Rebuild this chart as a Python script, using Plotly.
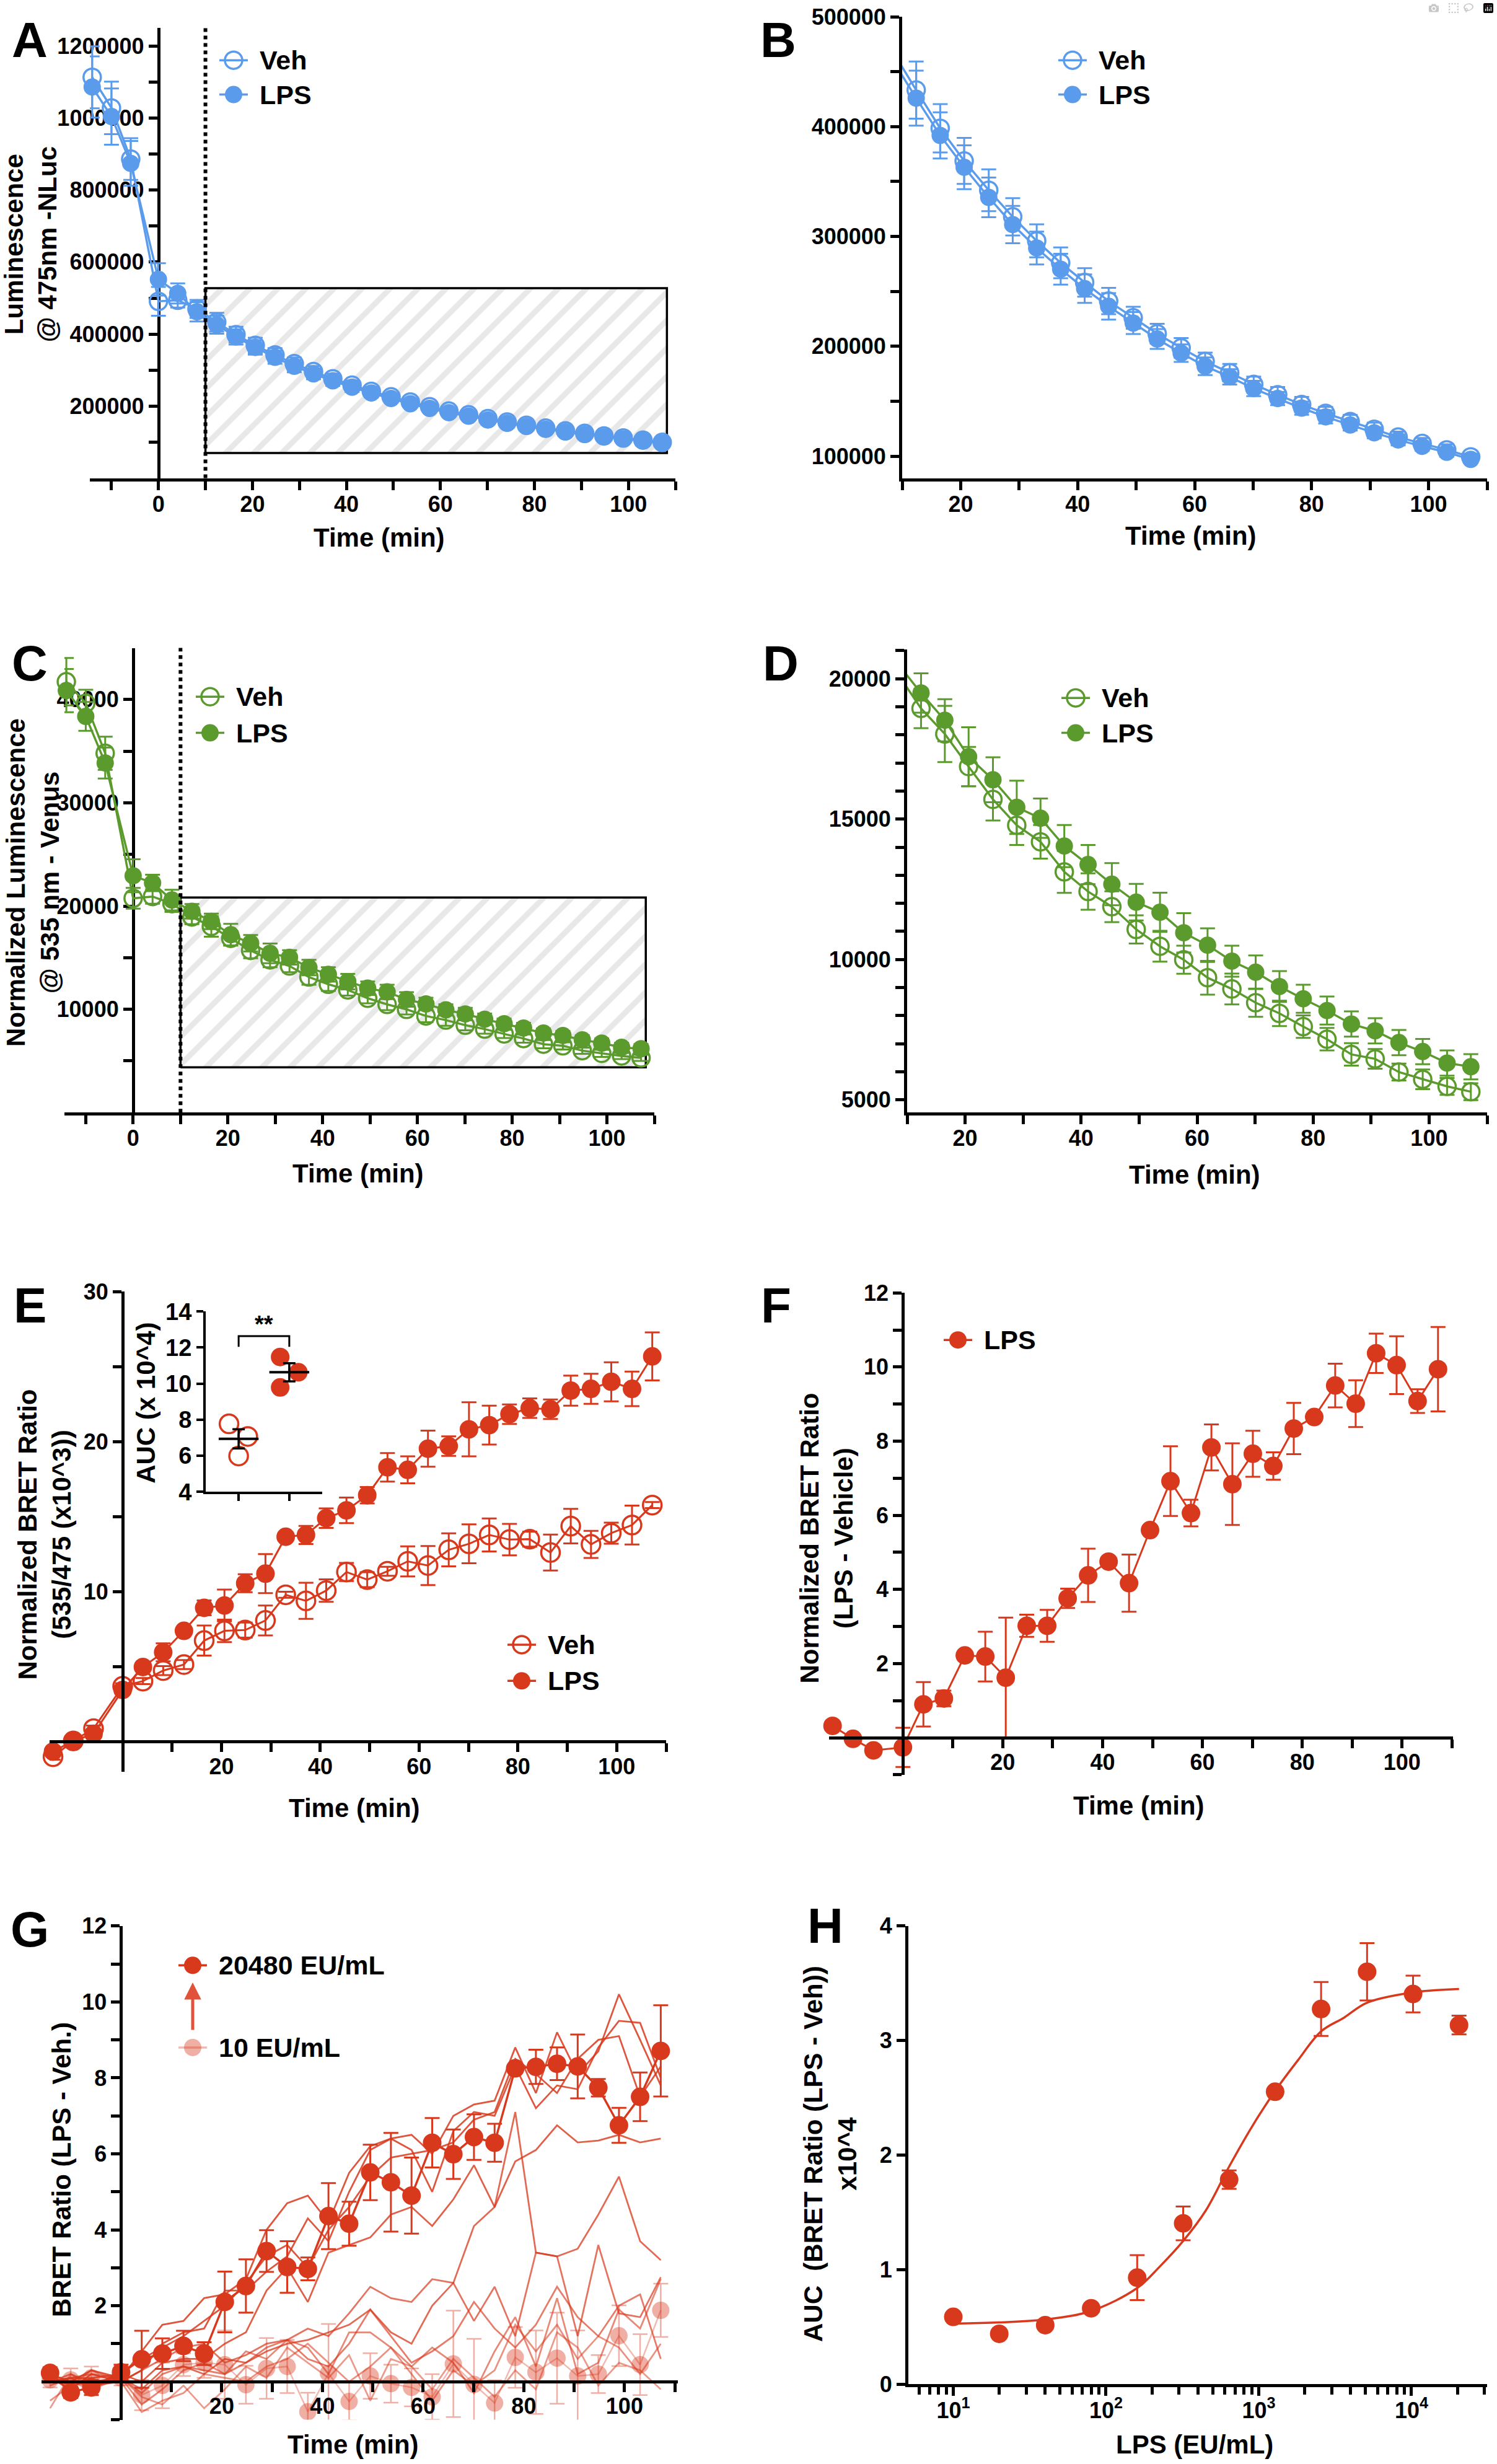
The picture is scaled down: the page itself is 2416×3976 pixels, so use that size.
import plotly.graph_objects as go

W, H = 2416, 3976
FONT = "Liberation Sans, Arial, sans-serif"
BLUE = "#5b9bec"
GREEN = "#5b9a2c"
RED = "#d8381c"
RED_FADE = "rgba(216,56,28,0.40)"

# %%
# data
TIME = [-14.1, -10.0, -5.9, 0.0, 4.1, 8.2, 12.4, 16.5, 20.6, 24.8, 28.9, 33.0, 37.1, 41.2, 45.3,
        49.5, 53.6, 57.7, 61.8, 66.0, 70.1, 74.2, 78.3, 82.4, 86.6, 90.7, 94.8, 98.9, 103.1, 107.2]

# A/B  luminescence @475 nm (NLuc)
NLUC_VEH = [1113000, 1028000, 886000, 491000, 494000, 470000, 433300, 398500, 368800, 342100,
            317900, 296000, 276000, 258200, 241200, 226000, 211500, 198600, 186300, 176000,
            165400, 156000, 147000, 139000, 131600, 124500, 117400, 111600, 105800, 99400]
NLUC_VEH_ERR = [86000, 73000, 58000, 40000, 20000, 25000, 26000, 22000, 21000, 19000, 17000,
                15000, 14000, 13000, 12000, 10000, 9000, 9000, 8000, 8000, 7000, 7000, 7000,
                6000, 6000, 6000, 5000, 5000, 5000, 3000]
NLUC_LPS = [1086000, 1004000, 874000, 552000, 513000, 462000, 425900, 392000, 363000, 335600,
            310800, 289500, 270200, 252500, 236400, 221200, 206700, 193800, 181900, 172200,
            161600, 152500, 143800, 135800, 128400, 121300, 114800, 109000, 103600, 97100]
NLUC_LPS_ERR = [85000, 78000, 62000, 45000, 28000, 27000, 25000, 21000, 20000, 18000, 17000,
                15000, 14000, 13000, 12000, 10000, 9000, 8000, 8000, 7000, 7000, 6000, 6000,
                6000, 5000, 5000, 5000, 4000, 4000, 3000]

# C/D  normalized luminescence @535 nm (Venus)
VEN_VEH = [41730, 39650, 34800, 20750, 20920, 20230, 18940, 18030, 16870, 15700, 14780, 14190,
           13120, 12420, 11880, 11070, 10470, 9990, 9350, 8950, 8460, 8080, 7610, 7160, 6620,
           6460, 5990, 5730, 5480, 5290]
VEN_VEH_ERR = [2300, 1300, 1600, 1000, 700, 800, 700, 1000, 700, 750, 700, 600, 750, 650, 550,
               500, 550, 500, 600, 550, 500, 450, 400, 400, 400, 350, 300, 350, 300, 300]
VEN_LPS = [40870, 38370, 33860, 22930, 22240, 20580, 19490, 18520, 17220, 16400, 15420, 15030,
           14040, 13380, 12680, 12040, 11680, 10950, 10510, 9940, 9545, 9036, 8600, 8180, 7700,
           7457, 7040, 6720, 6310, 6180]
VEN_LPS_ERR = [2100, 1400, 1500, 1600, 800, 1000, 700, 750, 1050, 800, 950, 700, 750, 700, 750,
               650, 700, 700, 600, 550, 600, 550, 500, 500, 450, 450, 450, 450, 450, 450]

# E  normalized BRET ratio (x10^3)
BRET_VEH = [-1.0, 0.05, 0.87, 3.69, 4.04, 4.74, 5.14, 6.74, 7.39, 7.44, 8.08, 9.79, 9.39, 10.07,
            11.31, 10.8, 11.36, 12.02, 11.74, 12.79, 13.19, 13.78, 13.47, 13.5, 12.61, 14.37,
            13.15, 13.9, 14.44, 15.77]
BRET_VEH_ERR = [0.2, 0.2, 0.2, 0.2, 0.2, 0.3, 0.3, 1.0, 0.75, 0.5, 1.0, 0.2, 1.2, 0.75, 0.6, 0.5,
                0.3, 1.0, 1.3, 1.1, 1.3, 1.1, 1.05, 0.5, 1.2, 1.15, 0.9, 0.7, 1.3, 0.2]
BRET_LPS = [-0.66, 0.05, 0.52, 3.45, 4.98, 5.96, 7.39, 8.92, 9.08, 10.56, 11.2, 13.66, 13.78,
            14.9, 15.42, 16.43, 18.29, 18.12, 19.53, 19.7, 20.82, 21.1, 21.83, 22.23, 22.16,
            23.4, 23.52, 23.99, 23.52, 25.68]
BRET_LPS_ERR = [0.2, 0.2, 0.2, 0.2, 0.3, 0.6, 0.2, 0.5, 1.06, 0.6, 1.3, 0.2, 0.6, 0.65, 0.85,
                0.55, 0.95, 0.9, 1.2, 0.65, 1.8, 1.3, 0.65, 0.65, 0.65, 1.0, 1.0, 1.3, 1.15, 1.6]

# E inset  AUC (x 10^4)
INSET_GROUPS = [1, 2]
INSET_VEH = [7.77, 7.07, 5.99]
INSET_VEH_JITTER = [-0.19, 0.18, 0.0]
INSET_LPS = [11.48, 10.63, 9.79]
INSET_LPS_JITTER = [-0.18, 0.18, -0.18]
INSET_MEAN = [6.94, 10.63]
INSET_SEM = [0.53, 0.50]
BRACKET_Y = [12.04, 12.64]

# F  LPS - vehicle
DIFF_LPS = [0.32, -0.03, -0.34, -0.26, 0.9, 1.06, 2.22, 2.19, 1.62, 3.02, 3.02, 3.76, 4.38, 4.75,
            4.17, 5.6, 6.92, 6.06, 7.83, 6.84, 7.66, 7.33, 8.34, 8.65, 9.5, 9.01, 10.37, 10.05,
            9.08, 9.94]
DIFF_LPS_ERR = [0.05, 0.05, 0.05, 0.53, 0.6, 0.21, 0.05, 0.67, 1.62, 0.3, 0.43, 0.26, 0.72, 0.05,
                0.77, 0.05, 0.94, 0.36, 0.62, 1.1, 0.62, 0.37, 0.69, 0.05, 0.59, 0.63, 0.53,
                0.78, 0.32, 1.14]

# G  dose series (BRET ratio, LPS - Veh.)
G_20480 = [0.23, -0.28, -0.15, 0.25, 0.59, 0.74, 0.94, 0.74, 2.1, 2.52, 3.44, 3.02, 2.97, 4.36,
           4.16, 5.51, 5.25, 4.9, 6.29, 5.99, 6.44, 6.29, 8.25, 8.29, 8.37, 8.3, 7.74, 6.75, 7.5,
           8.71]
G_20480_ERR = [0.15, 0.15, 0.2, 0.2, 0.75, 0.4, 0.4, 0.3, 0.8, 0.7, 0.55, 0.68, 0.3, 0.87, 0.58,
               0.73, 1.3, 1.0, 0.65, 0.65, 0.6, 0.5, 0.1, 0.45, 0.43, 0.84, 0.23, 0.46, 0.64, 1.2]
G_10 = [0.05, 0.05, 0.1, 0.1, -0.35, -0.1, 0.45, 0.5, 0.45, -0.08, 0.35, 0.4, -0.79, 0.22, -0.52,
        0.15, -0.05, -0.15, -0.4, 0.47, -0.07, -0.56, 0.64, 0.25, 0.62, 0.15, 0.2, 1.21, 0.45,
        1.88]
G_10_ERR = [0.2, 0.3, 0.3, 0.2, 0.4, 0.6, 0.3, 0.4, 0.9, 0.5, 0.8, 0.7, 0.5, 1.3, 0.5, 0.6, 0.5,
            0.5, 0.6, 1.4, 1.2, 0.6, 0.8, 1.1, 1.2, 1.2, 0.5, 0.8, 0.8, 0.7]
G_20 = [-0.7, 0.2, 0.0, 0.1, -0.4, -0.6, -0.1, -0.7, -0.2, 0.4, 0.1, 0.9, 0.5, 0.1, 0.7, -0.5,
        0.6, 0.4, -0.2, 0.6, 0.1, -0.4, 0.3, -0.2, 1.3, 0.9, -0.1, 0.5, 0.3, -0.2]
G_40 = [-0.5, -0.1, 0.3, 0.0, -0.8, -0.5, -0.3, 0.2, 0.1, 0.0, 0.4, 0.6, 1.0, 0.5, 0.0, 0.4, 0.9,
        0.2, -0.5, 0.3, -0.1, 0.3, 1.5, 0.8, 1.5, 0.6, 1.2, 0.9, 0.2, 1.0]
G_80 = [0.2, 0.0, -0.2, 0.1, -0.6, -0.2, 0.3, 0.5, 0.2, 0.8, 0.6, 1.1, 0.9, 0.2, 1.3, 1.3, 0.9,
        0.4, 0.9, 0.5, -0.3, 0.8, 1.7, 0.4, 2.2, 0.2, 0.5, 1.9, 1.4, 2.7]
G_160 = [-0.1, 0.1, 0.2, 0.1, -0.3, 0.2, 0.4, 0.3, 0.2, 0.5, 0.9, 1.1, 0.6, 0.4, 1.0, 1.9, 1.2,
         0.5, 0.8, 1.2, 2.1, 1.4, 0.9, 1.5, 2.5, 1.7, 1.2, 2.0, 2.3, 0.6]
G_320 = [0.0, 0.2, -0.1, 0.0, 0.3, 0.6, 0.9, 1.0, 0.5, 0.7, 1.0, 1.1, 1.4, 1.2, 1.8, 2.5, 2.2,
         2.1, 2.7, 2.6, 1.6, 2.5, 1.2, 3.4, 3.3, 1.2, 3.6, 1.8, 1.7, 2.75]
G_640 = [0.1, -0.1, 0.0, 0.1, -0.2, 0.3, 0.4, 0.2, 0.6, 0.5, 0.8, 1.0, 1.1, 1.3, 1.5, 1.9, 1.3,
         1.0, 2.0, 2.6, 4.1, 4.6, 7.1, 3.4, 3.3, 3.5, 4.4, 5.4, 3.7, 3.2]
G_1280 = [0.0, 0.1, 0.1, 0.2, 0.0, 0.5, 0.6, 0.6, 1.0, 1.3, 2.4, 3.0, 2.1, 3.4, 3.6, 3.8, 4.4,
          4.6, 4.1, 4.8, 5.7, 4.6, 5.8, 6.1, 6.75, 6.3, 6.35, 6.5, 6.3, 6.4]
G_2560 = [0.1, -0.2, 0.2, 0.0, 0.3, 1.0, 1.3, 1.4, 2.4, 2.4, 2.9, 3.3, 4.3, 3.7, 5.0, 6.1, 6.4,
          6.1, 5.0, 6.6, 7.1, 7.0, 8.3, 7.2, 7.8, 7.7, 8.8, 9.5, 9.45, 8.0]
G_5120 = [0.2, 0.0, 0.3, 0.1, 0.8, 1.5, 1.6, 2.2, 2.3, 2.7, 4.0, 4.7, 4.9, 4.2, 5.5, 6.2, 6.4,
          6.5, 6.0, 7.0, 7.3, 7.4, 8.8, 7.6, 9.2, 8.1, 8.7, 10.2, 9.0, 7.8]
G_10240 = [0.0, 0.1, -0.2, 0.2, 0.6, 0.9, 1.2, 1.6, 2.0, 2.6, 3.3, 3.6, 3.0, 4.0, 4.6, 5.4, 5.9,
           6.0, 6.1, 6.3, 6.9, 7.1, 8.5, 8.1, 7.6, 8.5, 9.0, 9.1, 7.5, 8.3]
G_MID = [G_20, G_40, G_80, G_160, G_320, G_640, G_1280, G_2560, G_5120, G_10240]
G_MID_ALPHA = [0.5, 0.55, 0.6, 0.65, 0.7, 0.75, 0.8, 0.85, 0.85, 0.85]

# H  dose response
DOSE = [10, 20, 40, 80, 160, 320, 640, 1280, 2560, 5120, 10240, 20480]
AUC = [0.588, 0.44, 0.516, 0.663, 0.93, 1.404, 1.786, 2.553, 3.275, 3.6, 3.406, 3.135]
AUC_ERR = [0.02, 0.02, 0.02, 0.02, 0.196, 0.147, 0.08, 0.02, 0.235, 0.25, 0.16, 0.082]
FIT_X = [10, 20, 40, 80, 160, 226, 320, 452, 640, 905, 1280, 1810, 2560, 3620, 5120, 10240, 20480]
FIT_Y = [0.53, 0.54, 0.565, 0.64, 0.84, 1.03, 1.25, 1.52, 1.9, 2.25, 2.56, 2.83, 3.08, 3.2, 3.33,
         3.42, 3.45]

# analysis window (hatched box) and injection marker
WINDOW_T = [10, 108.2]
WINDOW_A = [70000, 527500]
WINDOW_C = [4380, 20820]
T_MARK = 10


# %%
# helpers
def Y(v):
    # small vertical stretch measured against the reference
    return 856 + (v - 856) * 1.0142


def xdom(a, b):
    return [a / W, b / W]


def ydom(top, bottom):
    return [1 - Y(bottom) / H, 1 - Y(top) / H]


def zero_x(dom, rng):
    return (dom[0] + (0 - rng[0]) / (rng[1] - rng[0]) * (dom[1] - dom[0])) / W


def zero_y(dom, rng):
    top, bottom = Y(dom[0]), Y(dom[1])
    return 1 - (bottom - (0 - rng[0]) / (rng[1] - rng[0]) * (bottom - top)) / H


TICK_FONT = dict(family=FONT, size=36, color="black", weight="bold")


def axis(**kw):
    d = dict(showline=True, linecolor="black", linewidth=5, ticks="outside", ticklen=14,
             tickwidth=5, tickcolor="black", showgrid=False, zeroline=False, fixedrange=True,
             tickformat="d", tickfont=TICK_FONT)
    d.update(kw)
    return d


def xaxis(**kw):
    return axis(ticklabelstandoff=-8, **kw)


def minor(vals, length=14):
    return dict(tickmode="array", tickvals=vals, ticks="outside", ticklen=length, tickwidth=5,
                tickcolor="black")


def series(x, y, err, color, xa, ya, name, hollow=False, clip=False, size=28, lw=3.5):
    return go.Scatter(
        x=x, y=y, name=name, mode="lines+markers", xaxis=xa, yaxis=ya, cliponaxis=clip,
        line=dict(color=color, width=lw),
        marker=dict(symbol="circle-open" if hollow else "circle", size=size, color=color,
                    line=dict(color=color, width=3.5 if hollow else 0)),
        error_y=dict(type="data", array=err, color=color, thickness=3, width=12),
    )


def hatch_box(t, yv, xa, ya):
    return go.Scatter(
        x=[t[0], t[1], t[1], t[0], t[0]], y=[yv[0], yv[0], yv[1], yv[1], yv[0]],
        xaxis=xa, yaxis=ya, mode="lines", fill="toself", hoverinfo="skip",
        line=dict(color="black", width=3.5), fillcolor="white",
        fillpattern=dict(shape="/", fgcolor="#d2d2d2", bgcolor="white", size=32, solidity=0.28),
    )


fig = go.Figure()
anns = []
shapes = []

# %%
# A
A_X, A_Y = (145, 1090), (36, 760)
A_XR, A_YR = [-14.6, 110], [0, 1250000]
fig.add_trace(hatch_box(WINDOW_T, WINDOW_A, "x", "y"))
fig.add_trace(series(TIME, NLUC_VEH, NLUC_VEH_ERR, BLUE, "x", "y", "Veh", hollow=True))
fig.add_trace(series(TIME, NLUC_LPS, NLUC_LPS_ERR, BLUE, "x", "y", "LPS"))

# B
B_X, B_Y = (1456, 2400), (18, 760)
fig.add_trace(series(TIME, NLUC_VEH, NLUC_VEH_ERR, BLUE, "x2", "y2", "Veh", hollow=True, clip=True))
fig.add_trace(series(TIME, NLUC_LPS, NLUC_LPS_ERR, BLUE, "x2", "y2", "LPS", clip=True))

# C
C_X, C_Y = (104, 1056), (1033, 1780)
C_XR, C_YR = [-14.5, 110], [0, 45000]
fig.add_trace(hatch_box(WINDOW_T, WINDOW_C, "x3", "y3"))
fig.add_trace(series(TIME, VEN_VEH, VEN_VEH_ERR, GREEN, "x3", "y3", "Veh", hollow=True))
fig.add_trace(series(TIME, VEN_LPS, VEN_LPS_ERR, GREEN, "x3", "y3", "LPS"))

# D
D_X, D_Y = (1464, 2400), (1035, 1780)
fig.add_trace(series(TIME, VEN_VEH, VEN_VEH_ERR, GREEN, "x4", "y4", "Veh", hollow=True, clip=True))
fig.add_trace(series(TIME, VEN_LPS, VEN_LPS_ERR, GREEN, "x4", "y4", "LPS", clip=True))

# E
E_X, E_Y = (80, 1075), (2068, 2840)
E_XR, E_YR = [-14.8, 110], [-2, 30]
fig.add_trace(series(TIME, BRET_VEH, BRET_VEH_ERR, RED, "x5", "y5", "Veh", hollow=True, size=30, lw=3))
fig.add_trace(series(TIME, BRET_LPS, BRET_LPS_ERR, RED, "x5", "y5", "LPS", size=30, lw=3))

# E inset
I_X, I_Y = (332, 520), (2100, 2390)
fig.add_trace(go.Scatter(
    x=[INSET_GROUPS[0] + j for j in INSET_VEH_JITTER], y=INSET_VEH, mode="markers",
    xaxis="x9", yaxis="y9", cliponaxis=False,
    marker=dict(symbol="circle-open", size=30, color=RED, line=dict(color=RED, width=3.5))))
fig.add_trace(go.Scatter(
    x=[INSET_GROUPS[1] + j for j in INSET_LPS_JITTER], y=INSET_LPS, mode="markers",
    xaxis="x9", yaxis="y9", cliponaxis=False, marker=dict(symbol="circle", size=30, color=RED)))
fig.add_trace(go.Scatter(
    x=INSET_GROUPS, y=INSET_MEAN, mode="markers", xaxis="x9", yaxis="y9", cliponaxis=False,
    marker=dict(symbol="line-ew", size=46, color="black", line=dict(color="black", width=4)),
    error_y=dict(type="data", array=INSET_SEM, color="black", thickness=3.5, width=10)))
fig.add_trace(go.Scatter(
    x=[INSET_GROUPS[0], INSET_GROUPS[0], INSET_GROUPS[1], INSET_GROUPS[1]],
    y=[BRACKET_Y[0], BRACKET_Y[1], BRACKET_Y[1], BRACKET_Y[0]], mode="lines",
    xaxis="x9", yaxis="y9", line=dict(color="black", width=3)))
anns.append(dict(x=1.5, y=BRACKET_Y[1], xref="x9", yref="y9", text="**", showarrow=False,
                 yanchor="bottom", yshift=-4, font=dict(family=FONT, size=38, weight="bold", color="black")))

# F
F_X, F_Y = (1338, 2345), (2070, 2845)
F_XR, F_YR = [-14.8, 110.2], [-1, 12]
fig.add_trace(series(TIME, DIFF_LPS, DIFF_LPS_ERR, RED, "x6", "y6", "LPS", size=30, lw=3))

# G
G_X, G_Y = (67, 1094), (3088, 3882)
G_XR, G_YR = [-15.8, 110.6], [-1, 12]
for vals, a in zip(G_MID, G_MID_ALPHA):
    fig.add_trace(go.Scatter(x=TIME, y=vals, mode="lines", xaxis="x7", yaxis="y7",
                             line=dict(color=f"rgba(216,56,28,{a})", width=2.8)))
fig.add_trace(go.Scatter(
    x=TIME, y=G_10, name="10 EU/mL", mode="lines+markers", xaxis="x7", yaxis="y7",
    line=dict(color="rgba(216,56,28,0.35)", width=2.5), marker=dict(size=28, color=RED_FADE),
    error_y=dict(type="data", array=G_10_ERR, color="rgba(216,56,28,0.4)", thickness=2.5, width=12)))
fig.add_trace(go.Scatter(
    x=TIME, y=G_20480, name="20480 EU/mL", mode="lines+markers", xaxis="x7", yaxis="y7",
    cliponaxis=False, line=dict(color=RED, width=3.5), marker=dict(size=30, color=RED),
    error_y=dict(type="data", array=G_20480_ERR, color=RED, thickness=3, width=12)))

# H
H_X, H_Y = (1466, 2400), (3088, 3825)
fig.add_trace(go.Scatter(x=FIT_X, y=FIT_Y, mode="lines", line_shape="spline", xaxis="x8",
                         yaxis="y8", line=dict(color=RED, width=3.5)))
fig.add_trace(go.Scatter(
    x=DOSE, y=AUC, mode="markers", xaxis="x8", yaxis="y8", cliponaxis=False,
    marker=dict(size=30, color=RED),
    error_y=dict(type="data", array=AUC_ERR, color=RED, thickness=3, width=12)))

# %%
# axes
TEN = [-10, 10, 30, 50, 70, 90, 110]
POS = [10, 30, 50, 70, 90, 110]
LAB0 = [0, 20, 40, 60, 80, 100]
LAB = [20, 40, 60, 80, 100]

lay = dict(
    xaxis=xaxis(domain=xdom(*A_X), range=A_XR, anchor="y", tickmode="array", tickvals=LAB0, minor=minor(TEN)),
    yaxis=axis(domain=ydom(*A_Y), range=A_YR, anchor="free", position=zero_x(A_X, A_XR),
               layer="below traces", tickmode="array",
               tickvals=[200000, 400000, 600000, 800000, 1000000, 1200000],
               minor=minor([100000, 300000, 500000, 700000, 900000, 1100000])),
    xaxis2=xaxis(domain=xdom(*B_X), range=[10, 110], anchor="y2", tickmode="array", tickvals=LAB, minor=minor(POS)),
    yaxis2=axis(domain=ydom(*B_Y), range=[80000, 500000], anchor="x2", tickmode="array",
                tickvals=[100000, 200000, 300000, 400000, 500000],
                minor=minor([150000, 250000, 350000, 450000])),
    xaxis3=xaxis(domain=xdom(*C_X), range=C_XR, anchor="y3", tickmode="array", tickvals=LAB0, minor=minor(TEN)),
    yaxis3=axis(domain=ydom(*C_Y), range=C_YR, anchor="free", position=zero_x(C_X, C_XR),
                layer="below traces", tickmode="array", tickvals=[10000, 20000, 30000, 40000],
                minor=minor([5000, 15000, 25000, 35000])),
    xaxis4=xaxis(domain=xdom(*D_X), range=[10, 110], anchor="y4", tickmode="array", tickvals=LAB, minor=minor(POS)),
    yaxis4=axis(domain=ydom(*D_Y), range=[4550, 21050], anchor="x4", tickmode="array",
                tickvals=[5000, 10000, 15000, 20000],
                minor=minor([v for v in range(6000, 21001, 1000) if v % 5000])),
    xaxis5=xaxis(domain=xdom(*E_X), range=E_XR, anchor="free", position=zero_y(E_Y, E_YR),
                 tickmode="array", tickvals=LAB, minor=minor(POS)),
    yaxis5=axis(domain=ydom(*E_Y), range=E_YR, anchor="free", position=zero_x(E_X, E_XR),
                tickmode="array", tickvals=[10, 20, 30], minor=minor([5, 15, 25])),
    xaxis6=xaxis(domain=xdom(*F_X), range=F_XR, anchor="free", position=zero_y(F_Y, F_YR),
                 tickmode="array", tickvals=LAB, minor=minor(POS)),
    yaxis6=axis(domain=ydom(*F_Y), range=F_YR, anchor="free", position=zero_x(F_X, F_XR),
                tickmode="array", tickvals=[2, 4, 6, 8, 10, 12], minor=minor([-1, 1, 3, 5, 7, 9, 11])),
    xaxis7=xaxis(domain=xdom(*G_X), range=G_XR, anchor="free", position=zero_y(G_Y, G_YR),
                 tickmode="array", tickvals=LAB, minor=minor(POS)),
    yaxis7=axis(domain=ydom(*G_Y), range=G_YR, anchor="free", position=zero_x(G_X, G_XR),
                tickmode="array", tickvals=[2, 4, 6, 8, 10, 12], minor=minor([-1, 1, 3, 5, 7, 9, 11])),
    xaxis8=xaxis(domain=xdom(*H_X), type="log", range=[0.706, 4.495], anchor="y8", tickmode="array",
                 tickvals=[10, 100, 1000, 10000], tickformat=None,
                 ticktext=["10<sup>1</sup>", "10<sup>2</sup>", "10<sup>3</sup>", "10<sup>4</sup>"],
                 minor=minor([m * d for d in (1, 10, 100, 1000, 10000) for m in range(2, 10)
                              if 5 < m * d < 31000] + [6, 7, 8, 9], 12)),
    yaxis8=axis(domain=ydom(*H_Y), range=[0, 4], anchor="x8", tickmode="array", tickvals=[0, 1, 2, 3, 4]),
    xaxis9=axis(domain=xdom(*I_X), range=[0.35, 2.65], anchor="y9", tickmode="array",
                tickvals=INSET_GROUPS, showticklabels=False, linewidth=4, tickwidth=4, ticklen=11),
    yaxis9=axis(domain=ydom(*I_Y), range=[4, 14], anchor="x9", tickmode="array",
                tickvals=[4, 6, 8, 10, 12, 14], linewidth=4, tickwidth=4, ticklen=11,
                tickfont=dict(family=FONT, size=38, color="black", weight="bold")),
)

# dotted injection line
for xr in ("x", "x3"):
    shapes.append(dict(type="line", xref=xr, yref=xr.replace("x", "y") + " domain", x0=T_MARK, x1=T_MARK,
                       y0=0, y1=1, line=dict(color="black", width=6, dash="dot")))

# %%
# legends drawn as keys (line + marker) with bold text, positions in page pixels
LEG_FONT = dict(family=FONT, size=43, color="black", weight="bold")


def legend_key(xc, yc, text, color, hollow=False, line_color=None):
    lc = line_color or color
    shapes.append(dict(type="line", xref="paper", yref="paper", x0=(xc - 23) / W, x1=(xc + 23) / W,
                       y0=1 - yc / H, y1=1 - yc / H, line=dict(color=lc, width=3.5)))
    shapes.append(dict(type="circle", xref="paper", yref="paper", xsizemode="pixel", ysizemode="pixel",
                       xanchor=xc / W, yanchor=1 - yc / H, x0=-14, x1=14, y0=-14, y1=14,
                       fillcolor="rgba(0,0,0,0)" if hollow else color,
                       line=dict(color=color, width=3.5 if hollow else 0)))
    anns.append(dict(x=(xc + 40) / W, y=1 - yc / H, xref="paper", yref="paper", text=text,
                     showarrow=False, xanchor="left", yanchor="middle", font=LEG_FONT))


for (xc, y1, y2), col in [((377, 77, 133), BLUE), ((1731, 77, 133), BLUE),
                          ((339, 1115, 1174), GREEN), ((1736, 1117, 1174), GREEN),
                          ((842, 2661, 2720), RED)]:
    legend_key(xc, y1, "Veh", col, hollow=True)
    legend_key(xc, y2, "LPS", col)
legend_key(1546, 2164, "LPS", RED)
legend_key(311, 3184, "20480 EU/mL", RED)
legend_key(311, 3318, "10 EU/mL", RED_FADE, line_color="rgba(216,56,28,0.35)")

# arrow in G legend
anns.append(dict(x=311 / W, y=1 - 3212 / H, xref="paper", yref="paper", ax=0, ay=78, text="",
                 showarrow=True, arrowhead=2, arrowsize=1.1, arrowwidth=5, arrowcolor="#e0533a"))

# titles
TITLE_FONT = dict(family=FONT, size=42, color="black", weight="bold")
titles = [
    (612, 856, "Time (min)", 0), (1922, 853, "Time (min)", 0),
    (578, 1878, "Time (min)", 0), (1928, 1880, "Time (min)", 0),
    (572, 2898, "Time (min)", 0), (1838, 2894, "Time (min)", 0),
    (570, 3922, "Time (min)", 0), (1928, 3922, "LPS (EU/mL)", 0),
    (50, 384, "Luminescence<br>@ 475nm -NLuc", -90),
    (53, 1410, "Normalized Luminescence<br>@ 535 nm - Venus", -90),
    (72, 2459, "Normalized BRET Ratio<br>(535/475 (x10^3))", -90),
    (1334, 2465, "Normalized BRET Ratio<br>(LPS - Vehicle)", -90),
    (99, 3480, "BRET Ratio (LPS - Veh.)", -90),
    (1340, 3455, "AUC  (BRET Ratio (LPS - Veh))<br>x10^4", -90),
    (236, 2247, "AUC (x 10^4)", -90),
]
for xp, yp, txt, ang in titles:
    anns.append(dict(x=xp / W, y=1 - Y(yp) / H, xref="paper", yref="paper", text=txt, showarrow=False,
                     textangle=ang, xanchor="center", yanchor="middle", font=TITLE_FONT))

letters = [(48, 55, "A"), (1256, 55, "B"), (48, 1058, "C"), (1260, 1058, "D"),
           (48, 2090, "E"), (1252, 2090, "F"), (48, 3094, "G"), (1332, 3088, "H")]
for xp, yp, txt in letters:
    anns.append(dict(x=xp / W, y=1 - Y(yp) / H, xref="paper", yref="paper", text=txt, showarrow=False,
                     xanchor="center", yanchor="middle",
                     font=dict(family=FONT, size=80, color="black", weight="bold")))

fig.update_layout(
    width=W, height=H, autosize=False, margin=dict(l=0, r=0, t=0, b=0), showlegend=False,
    paper_bgcolor="white", plot_bgcolor="rgba(0,0,0,0)", font=dict(family=FONT, color="black"),
    annotations=anns, shapes=shapes, **lay,
)

fig.write_html("out.html", post_script="document.body.style.margin='0';")
